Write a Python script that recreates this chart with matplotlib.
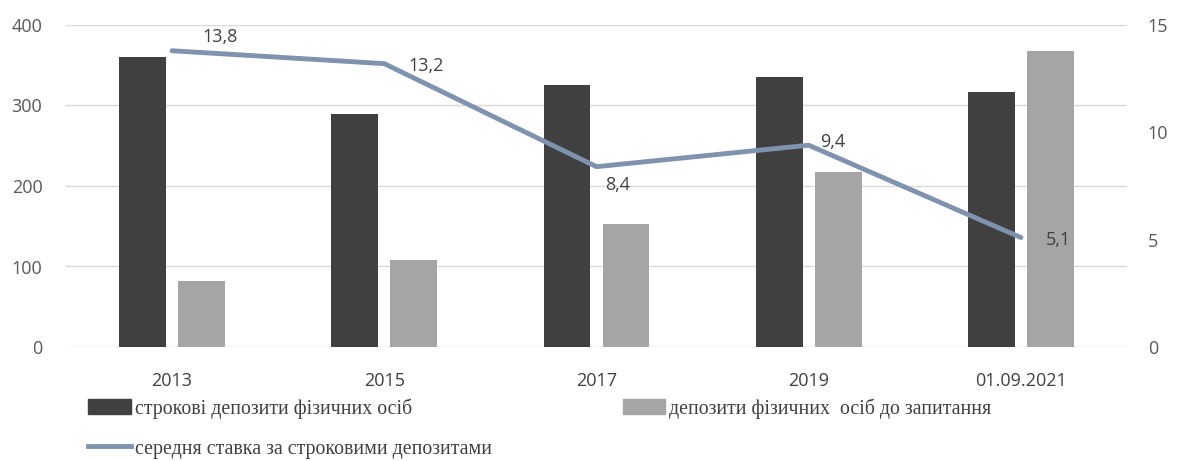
import matplotlib
matplotlib.use("Agg")
import matplotlib.pyplot as plt
import numpy as np
from matplotlib.patches import Patch
from matplotlib.lines import Line2D

categories = ["2013", "2015", "2017", "2019", "01.09.2021"]
term_deposits = [360, 290, 325, 335, 317]
demand_deposits = [82, 108, 153, 217, 368]
avg_rate = [13.8, 13.2, 8.4, 9.4, 5.1]
rate_labels = ["13,8", "13,2", "8,4", "9,4", "5,1"]
left_ticks = [0, 100, 200, 300, 400]
right_ticks = [0, 5, 10, 15]

label_offsets_px = [(48, 14), (42, -2), (21, -18), (24, 3), (37, -2)]

names = ["строкові депозити фізичних осіб",
         "депозити фізичних  осіб до запитання",
         "середня ставка за строковими депозитами"]

dark = "#404040"
light = "#a5a5a5"
line_c = "#7f93ae"
tick_c = "#595959"
num_font = ["Open Sans", "DejaVu Sans"]
serif_font = ["Liberation Serif", "DejaVu Serif"]

fig = plt.figure(figsize=(11.8, 4.61), dpi=100)
ax = fig.add_axes([66/1180, 1-347/461, (1127-66)/1180, (347-25)/461])
ax2 = ax.twinx()

x = np.arange(len(categories))
w = 0.22
off = 0.139
ax.bar(x - off, term_deposits, w, color=dark, zorder=2)
ax.bar(x + off, demand_deposits, w, color=light, zorder=2)
ax.set_xlim(-0.5, len(categories) - 0.5)
ax.set_ylim(0, 400)
ax.set_yticks(left_ticks)
ax.grid(axis="y", color="#d9d9d9", linewidth=1, zorder=0)
ax.set_axisbelow(True)
for s in ax.spines.values():
    s.set_visible(False)
for s in ax2.spines.values():
    s.set_visible(False)
ax.tick_params(axis="both", length=0, colors=tick_c)
ax.tick_params(axis="y", pad=17)
ax.tick_params(axis="x", pad=18)
ax.set_xticks(x)
ax.set_xticklabels(categories, fontsize=13, family=num_font, color="#404040")
for t in ax.get_yticklabels():
    t.set_fontsize(13); t.set_family(num_font)

ax2.plot(x, avg_rate, color=line_c, linewidth=3.5, solid_capstyle="round", zorder=3)
ax2.set_ylim(0, 15)
ax2.set_yticks(right_ticks)
ax2.tick_params(axis="y", length=0, colors=tick_c, pad=15)
for t in ax2.get_yticklabels():
    t.set_fontsize(13); t.set_family(num_font)

for xi, yi, lab, (dx, dy) in zip(x, avg_rate, rate_labels, label_offsets_px):
    ax2.annotate(lab, (xi, yi), xytext=(dx*0.72, dy*0.72), textcoords="offset points",
                 ha="center", va="center", fontsize=13, family=num_font, color="#404040")

handles = [Patch(color=dark), Line2D([], [], color=line_c, linewidth=3.5), Patch(color=light)]
labels = [names[0], names[2], names[1]]
fig.legend(handles, labels, ncol=2, loc="upper left", bbox_to_anchor=(88/1180, 1-398/461),
           frameon=False, prop={"family": serif_font, "size": 14.3}, labelcolor="#404040",
           handlelength=2.15, handleheight=0.75, handletextpad=0.2, labelspacing=1.05,
           columnspacing=6.6, borderaxespad=0, borderpad=0)

fig.savefig("out.png", dpi=100)
